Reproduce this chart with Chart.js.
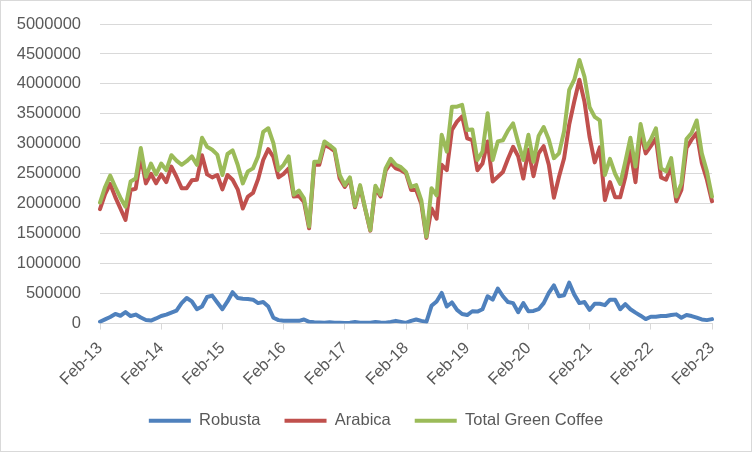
<!DOCTYPE html>
<html>
<head>
<meta charset="utf-8">
<title>Green coffee</title>
<script src="https://cdn.jsdelivr.net/npm/chart.js@4.4.0/dist/chart.umd.min.js"></script>
<style>
    html, body { margin: 0; padding: 0; background: #fff; }
    #wrap { width: 752px; height: 452px; box-sizing: border-box; border: 1px solid #d9d9d9; }
</style>
</head>
<body>
<div id="wrap"><canvas id="coffeeChart"></canvas></div>
<script>
// Monthly series, Feb-13 .. Feb-23 (121 months)
const startYear = 2013;
const startMonth = 1; // Feb
const monthCount = 121;
const tickLabels = ['Feb-13', 'Feb-14', 'Feb-15', 'Feb-16', 'Feb-17', 'Feb-18',
                    'Feb-19', 'Feb-20', 'Feb-21', 'Feb-22', 'Feb-23'];
const yTicks = [0, 500000, 1000000, 1500000, 2000000, 2500000, 3000000, 3500000, 4000000, 4500000, 5000000];

const robusta = [
    30000, 70000, 110000, 160000, 130000, 190000, 125000, 150000, 100000, 60000, 50000, 85000,
    125000, 148000, 182000, 216000, 341000, 426000, 369000, 239000, 284000, 443000, 466000, 352000,
    239000, 369000, 523000, 426000, 415000, 409000, 398000, 341000, 358000, 284000, 97000, 57000,
    45000, 45000, 45000, 45000, 68000, 28000, 20000, 17000, 15000, 20000, 12000, 15000,
    11000, 15000, 25000, 15000, 12000, 15000, 25000, 18000, 15000, 28000, 45000, 28000,
    11000, 45000, 68000, 45000, 28000, 295000, 369000, 511000, 284000, 352000, 227000, 159000,
    142000, 205000, 199000, 239000, 455000, 398000, 585000, 455000, 358000, 341000, 188000, 341000,
    205000, 210000, 239000, 341000, 511000, 636000, 455000, 472000, 682000, 483000, 341000, 358000,
    227000, 330000, 330000, 307000, 398000, 398000, 239000, 324000, 239000, 182000, 131000, 74000,
    114000, 114000, 125000, 125000, 142000, 153000, 97000, 142000, 125000, 97000, 68000, 57000,
    74000
];

const arabica = [
    1910000, 2160000, 2330000, 2110000, 1920000, 1730000, 2230000, 2250000, 2780000, 2340000, 2500000, 2340000,
    2490000, 2360000, 2620000, 2450000, 2260000, 2260000, 2390000, 2400000, 2810000, 2490000, 2440000, 2480000,
    2240000, 2480000, 2400000, 2240000, 1920000, 2120000, 2180000, 2410000, 2730000, 2910000, 2780000, 2440000,
    2500000, 2590000, 2120000, 2130000, 2030000, 1590000, 2650000, 2650000, 2980000, 2940000, 2880000, 2420000,
    2280000, 2410000, 1940000, 2280000, 1910000, 1550000, 2260000, 2120000, 2550000, 2680000, 2590000, 2560000,
    2510000, 2230000, 2230000, 2000000, 1430000, 1920000, 1750000, 2650000, 2560000, 3230000, 3370000, 3460000,
    3090000, 3060000, 2560000, 2670000, 3040000, 2370000, 2450000, 2530000, 2750000, 2950000, 2790000, 2420000,
    2900000, 2460000, 2840000, 2960000, 2650000, 2100000, 2450000, 2760000, 3320000, 3710000, 4070000, 3700000,
    3110000, 2690000, 2940000, 2060000, 2360000, 2110000, 2110000, 2440000, 2890000, 2360000, 3200000, 2840000,
    2960000, 3090000, 2440000, 2400000, 2620000, 2040000, 2230000, 2930000, 3070000, 3180000, 2680000, 2400000,
    2040000
];

const totalGreen = [
    2020000, 2280000, 2470000, 2280000, 2100000, 1950000, 2370000, 2420000, 2930000, 2450000, 2670000, 2490000,
    2670000, 2560000, 2810000, 2720000, 2650000, 2710000, 2790000, 2650000, 3100000, 2950000, 2900000, 2820000,
    2480000, 2830000, 2890000, 2650000, 2340000, 2540000, 2590000, 2790000, 3200000, 3260000, 3010000, 2560000,
    2650000, 2790000, 2150000, 2220000, 2090000, 1620000, 2700000, 2700000, 3040000, 2980000, 2910000, 2480000,
    2310000, 2440000, 1960000, 2310000, 1920000, 1560000, 2300000, 2150000, 2590000, 2750000, 2650000, 2610000,
    2530000, 2280000, 2310000, 2060000, 1450000, 2260000, 2140000, 3150000, 2870000, 3620000, 3620000, 3650000,
    3230000, 3240000, 2730000, 2870000, 3510000, 2730000, 3040000, 3060000, 3220000, 3340000, 3020000, 2730000,
    3150000, 2700000, 3130000, 3280000, 3070000, 2760000, 2840000, 3210000, 3900000, 4070000, 4400000, 4120000,
    3610000, 3450000, 3390000, 2480000, 2750000, 2500000, 2330000, 2700000, 3100000, 2620000, 3330000, 2930000,
    3070000, 3260000, 2590000, 2540000, 2760000, 2120000, 2340000, 3080000, 3180000, 3390000, 2840000, 2540000,
    2120000
];

// Category labels "Mmm-yy"
const monthNames = ['Jan', 'Feb', 'Mar', 'Apr', 'May', 'Jun', 'Jul', 'Aug', 'Sep', 'Oct', 'Nov', 'Dec'];
const categories = [];
for (let i = 0; i < monthCount; i++) {
    const m = (startMonth + i) % 12;
    const y = startYear + Math.floor((startMonth + i) / 12);
    categories.push(monthNames[m] + '-' + String(y).slice(2));
}

const fontFamily = '"Liberation Sans", Arial, sans-serif';
const fontSize = 16.5;
const textColor = '#595959';
const gridColor = '#d9d9d9';

function lineSet(label, data, color, order) {
    return {
        label: label,
        data: data,
        borderColor: color,
        backgroundColor: color,
        borderWidth: 4,
        borderJoinStyle: 'round',
        borderCapStyle: 'round',
        pointRadius: 0,
        pointHoverRadius: 0,
        tension: 0,
        fill: false,
        order: order
    };
}

new Chart(document.getElementById('coffeeChart'), {
    type: 'line',
    data: {
        labels: categories,
        datasets: [
            lineSet('Robusta', robusta, '#4f81bd', 3),
            lineSet('Arabica', arabica, '#c0504d', 2),
            lineSet('Total Green Coffee', totalGreen, '#9bbb59', 1)
        ]
    },
    options: {
        responsive: true,
        maintainAspectRatio: false,
        animation: false,
        layout: {
            padding: { left: 0, right: 0, top: 23, bottom: 12 }
        },
        plugins: {
            tooltip: { enabled: false },
            legend: {
                position: 'bottom',
                labels: {
                    color: textColor,
                    font: { family: fontFamily, size: fontSize },
                    boxWidth: 42,
                    boxHeight: 4,
                    padding: 24,
                    sort: (a, b) => a.datasetIndex - b.datasetIndex,
                    generateLabels: function(chart) {
                        const items = Chart.defaults.plugins.legend.labels.generateLabels(chart);
                        items.forEach(item => { item.lineWidth = 0; });
                        return items;
                    }
                }
            }
        },
        scales: {
            x: {
                grid: {
                    drawOnChartArea: false,
                    drawTicks: true,
                    tickLength: 6,
                    color: gridColor
                },
                border: { display: true, color: gridColor },
                afterFit: function(axis) {
                    axis.height = axis.height - 10;
                },
                ticks: {
                    autoSkip: false,
                    maxRotation: 45,
                    minRotation: 45,
                    color: textColor,
                    font: { family: fontFamily, size: fontSize },
                    padding: 9,
                    callback: function(value, index) {
                        const label = categories[index];
                        return tickLabels.includes(label) ? label : null;
                    }
                }
            },
            y: {
                min: yTicks[0],
                max: yTicks[yTicks.length - 1],
                afterBuildTicks: function(axis) {
                    axis.ticks = yTicks.map(v => ({ value: v }));
                },
                afterFit: function(axis) {
                    axis.width = 99;
                    // top is fixed by layout padding instead
                    axis.paddingTop = 0;
                    axis.paddingBottom = 0;
                },
                grid: { color: gridColor, drawTicks: false },
                border: { display: false },
                ticks: {
                    color: textColor,
                    font: { family: fontFamily, size: fontSize },
                    padding: 19,
                    callback: v => String(v)
                }
            },
            // empty right-hand strip so the legend stays centred on the canvas
            spacer: {
                type: 'linear',
                position: 'right',
                grid: { display: false },
                border: { display: false },
                ticks: { display: false },
                afterFit: function(axis) {
                    axis.width = 39;
                }
            }
        }
    }
});
</script>
</body>
</html>
